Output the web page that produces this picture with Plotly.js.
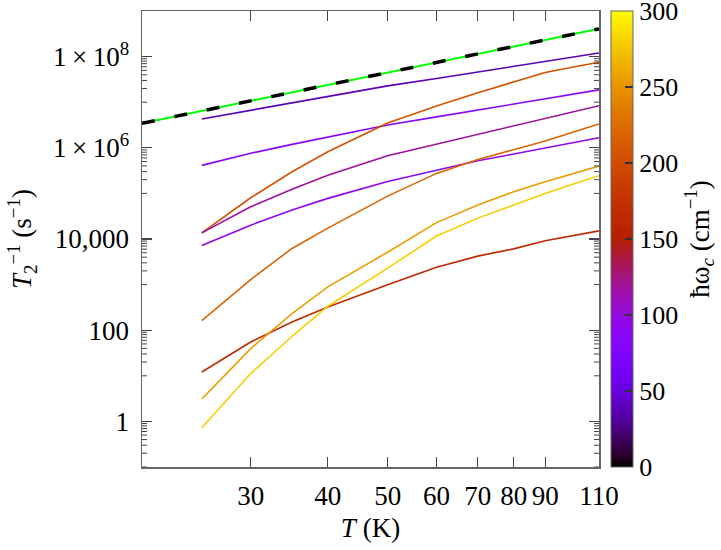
<!DOCTYPE html>
<html>
<head>
<meta charset="utf-8">
<script src="https://cdn.plot.ly/plotly-3.0.1.min.js"></script>
<style>html,body{margin:0;padding:0;background:#fff;}</style>
</head>
<body>
<div id="chart" style="width:721px;height:550px;"></div>
<script>
// Temperatures (K)
const temperature = [25, 30, 35, 40, 50, 60, 70, 80, 90, 100, 110];
// hbar*omega_c (cm^-1) of each curve
const omegaC = [38, 87, 205, 118, 95, 220, 165, 255, 280];
// T2^-1 (s^-1) for each curve
const rate38  = [4.29e6, 6.61e6, 9.55e6, 1.34e7, 2.28e7, 3.31e7, 4.57e7, 6.10e7, 7.85e7, 9.77e7, 1.20e8];
const rate87  = [4.12e5, 7.57e5, 1.19e6, 1.74e6, 3.16e6, 4.76e6, 6.76e6, 9.14e6, 1.19e7, 1.51e7, 1.86e7];
const rate205 = [1.36e4, 8.02e4, 2.99e5, 8.20e5, 3.50e6, 8.26e6, 1.62e7, 2.82e7, 4.46e7, 5.94e7, 7.53e7];
const rate118 = [1.36e4, 5.08e4, 1.24e5, 2.51e5, 6.70e5, 1.20e6, 1.98e6, 3.04e6, 4.44e6, 6.22e6, 8.39e6];
const rate95  = [7.23e3, 2.01e4, 4.31e4, 7.78e4, 1.82e5, 3.27e5, 5.20e5, 7.30e5, 9.93e5, 1.30e6, 1.66e6];
const rate220 = [163, 1.29e3, 6.21e3, 1.73e4, 8.71e4, 2.75e5, 5.53e5, 8.93e5, 1.41e6, 2.22e6, 3.33e6];
const rate165 = [12.1, 55.2, 151, 324, 995, 2.41e3, 4.21e3, 6.08e3, 9.12e3, 1.17e4, 1.51e4];
const rate255 = [3.09, 39.5, 232, 891, 5.13e3, 2.29e4, 5.55e4, 1.09e5, 1.80e5, 2.72e5, 3.98e5];
const rate280 = [0.728, 11.2, 73.6, 336, 2.29e3, 1.16e4, 2.87e4, 5.55e4, 1.0e5, 1.60e5, 2.44e5];
const rates = [rate38, rate87, rate205, rate118, rate95, rate220, rate165, rate255, rate280];
// Reference power law (green line and black dashed fit)
const refT = [20, 110];
const refRate = [3.44e6, 4.06e8];
// Tick labels
const xTicks = [30, 40, 50, 60, 70, 80, 90, 110];
const xTickText = ['30', '40', '50', '60', '70', '80', '90', '110'];
const yTicks = [1, 100, 1e4, 1e6, 1e8];
const yTickText = ['1', '100', '10,000', '1\u2009×\u200910<sup>6</sup>', '1\u2009×\u200910<sup>8</sup>'];
const cbTicks = [0, 50, 100, 150, 200, 250, 300];

const CMIN = 0, CMAX = 300;
function gnuplotColor(v) {
  const x = Math.min(1, Math.max(0, (v - CMIN) / (CMAX - CMIN)));
  const r = Math.sqrt(x), g = x * x * x, b = Math.max(0, Math.sin(2 * Math.PI * x));
  return 'rgb(' + Math.round(255 * r) + ',' + Math.round(255 * g) + ',' + Math.round(255 * b) + ')';
}
const colorscale = [];
for (let i = 0; i <= 40; i++) {
  colorscale.push([i / 40, gnuplotColor(CMIN + (CMAX - CMIN) * i / 40)]);
}

const FONT = "'Liberation Serif', 'DejaVu Serif', serif";
const FS = 27;
const traces = [];
omegaC.forEach((w, i) => {
  traces.push({
    x: temperature, y: rates[i], type: 'scatter', mode: 'lines',
    line: {color: gnuplotColor(w), width: 1.6}, showlegend: false, hoverinfo: 'skip'
  });
});
traces.push({x: refT, y: refRate, type: 'scatter', mode: 'lines',
  line: {color: '#00ff00', width: 2}, showlegend: false});
traces.push({x: refT, y: refRate, type: 'scatter', mode: 'lines',
  line: {color: '#000000', width: 3.5, dash: '13px,20px'}, showlegend: false});
// colorbar carrier
traces.push({
  x: [temperature[0], temperature[1]], y: [rate38[0], rate38[1]], type: 'scatter', mode: 'markers',
  marker: {
    size: 1, opacity: 0, color: [CMIN, CMAX], cmin: CMIN, cmax: CMAX, colorscale: colorscale,
    showscale: true,
    colorbar: {
      x: 1.0263, xanchor: 'left', xpad: 0, ypad: 0, y: 0.5, yanchor: 'middle',
      len: 1, lenmode: 'fraction', thickness: 22, thicknessmode: 'pixels',
      outlinecolor: '#666', outlinewidth: 1,
      ticks: 'inside', ticklen: 8, tickwidth: 1.5, tickcolor: '#333',
      tickmode: 'array', tickvals: cbTicks, ticktext: cbTicks.map(String),
      ticklabeloverflow: 'allow',
      tickfont: {family: FONT, size: 26, color: '#000'},
      title: {text: 'ħω<sub><i>c</i></sub> (cm<sup>−1</sup>)', side: 'right',
        font: {family: FONT, size: FS, color: '#000'}}
    }
  },
  showlegend: false, hoverinfo: 'skip'
});

// minor tick marks on the log y axis (below each labelled decade)
const yMinor = [];
yTicks.forEach(M => { for (let m = 1; m <= 9; m++) yMinor.push(M * 0.1 * m); });
const shapes = [];
const plotW = 721 - 142 - 122;
yMinor.forEach(v => {
  shapes.push({type: 'line', xref: 'paper', yref: 'y', x0: 0, x1: 5 / plotW, y0: v, y1: v,
    line: {color: '#444', width: 1}});
  shapes.push({type: 'line', xref: 'paper', yref: 'y', x0: 1 - 5 / plotW, x1: 1, y0: v, y1: v,
    line: {color: '#444', width: 1}});
});

const layout = {
  width: 721, height: 550,
  margin: {l: 142, r: 122, t: 11, b: 83, autoexpand: false},
  paper_bgcolor: '#fff', plot_bgcolor: '#fff',
  font: {family: FONT, size: FS, color: '#000'},
  showlegend: false,
  shapes: shapes,
  annotations: [{
    text: '<i>T</i><sub>2</sub><sup>−1</sup> (s<sup>−1</sup>)',
    xref: 'paper', yref: 'paper', x: (22 - 142) / plotW, y: 0.5,
    xanchor: 'center', yanchor: 'middle', textangle: -90, showarrow: false,
    font: {family: FONT, size: FS, color: '#000'}
  }],
  xaxis: {
    type: 'log', range: [Math.log10(20), Math.log10(110)],
    tickmode: 'array', tickvals: xTicks, ticktext: xTickText,
    ticks: 'inside', ticklen: 10, tickwidth: 1.3, tickcolor: '#444',
    showline: true, linecolor: '#666', linewidth: 1.5, mirror: 'ticks',
    showgrid: false, zeroline: false, automargin: false,
    tickfont: {family: FONT, size: FS, color: '#000'},
    ticklabelstandoff: 4,
    title: {text: '<i>T</i> (K)', font: {family: FONT, size: FS, color: '#000'}, standoff: 8}
  },
  yaxis: {
    type: 'log', range: [-1, 9],
    tickmode: 'array', tickvals: yTicks, ticktext: yTickText,
    ticks: 'inside', ticklen: 10, tickwidth: 1.3, tickcolor: '#444',
    showline: true, linecolor: '#666', linewidth: 1.5, mirror: 'ticks',
    showgrid: false, zeroline: false, automargin: false,
    tickfont: {family: FONT, size: FS, color: '#000'},
    ticklabelstandoff: 6
  }
};

Plotly.newPlot('chart', traces, layout, {displayModeBar: false, staticPlot: true});
</script>
</body>
</html>
